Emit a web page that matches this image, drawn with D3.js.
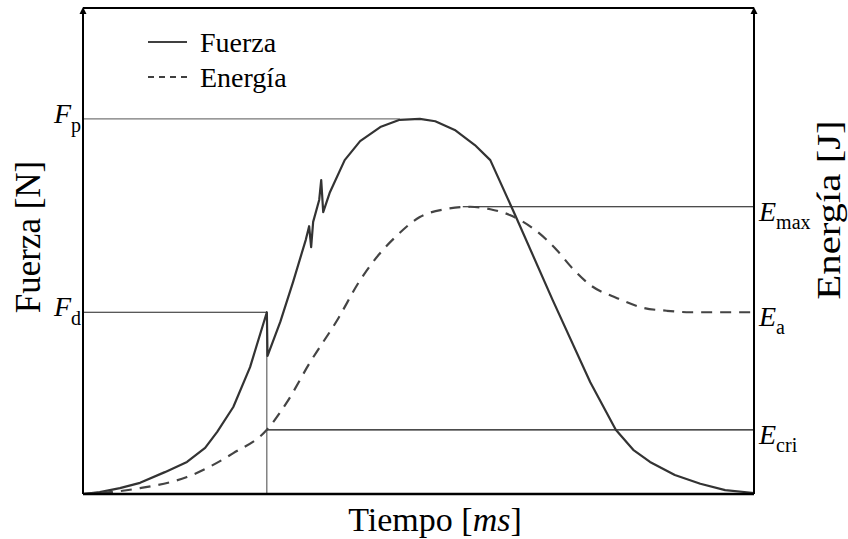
<!DOCTYPE html>
<html>
<head>
<meta charset="utf-8">
<script src="https://cdn.jsdelivr.net/npm/d3@7"></script>
<style>
svg text, svg tspan { font-family: 'Liberation Serif', 'DejaVu Serif', serif !important; }
</style>
</head>
<body style="margin:0">
<script>
// force curve (time, force) in arbitrary units
var forceT = [0, 2.5, 5.5, 8.5, 12.2, 15.5, 18.2, 20.0, 22.4, 24.9, 27.4, 27.5, 29.4, 31.3, 33.2, 33.7, 34.0, 34.3, 35.2, 35.5, 35.8, 36.8, 39.0, 41.3, 44.3, 47.2, 50.2, 52.5, 55.4, 58.4, 60.7, 64.4, 70.0, 75.6, 79.4, 82.0, 84.5, 88.2, 92.0, 95.7, 100];
var forceV = [0, 0.4, 1.2, 2.3, 4.5, 6.6, 9.5, 12.8, 17.9, 26.1, 37.4, 28.4, 35.4, 43.6, 52.3, 55.1, 50.8, 56.0, 60.5, 64.6, 58.0, 62.1, 68.7, 72.6, 75.5, 77.0, 77.2, 76.7, 74.9, 71.8, 68.7, 57.4, 39.9, 23.0, 13.2, 9.1, 6.6, 3.9, 2.1, 0.8, 0.2];

// energy curve
var energyT = [0, 2.5, 8.5, 15.5, 22.4, 27.4, 30.4, 33.8, 37.9, 41.3, 44.3, 46.5, 50.2, 54.0, 57.7, 60.7, 63.6, 67.4, 70.6, 72.9, 75.6, 79.6, 83.5, 87.0, 90.5, 100];
var energyV = [0, 0.2, 1.2, 3.5, 8.4, 13.2, 18.9, 27.0, 35.8, 44.0, 49.6, 52.8, 57.0, 58.6, 59.1, 58.6, 57.4, 54.3, 50.2, 46.5, 43.0, 40.3, 38.3, 37.7, 37.4, 37.4];

// reference levels
var forceLevels = ['p', 'd'];
var forceLevelV = [77.2, 37.4];
var forceLevelEnd = [47.2, 27.4];
var energyLevels = ['max', 'a', 'cri'];
var energyLevelV = [59.1, 37.4, 13.2];
var energyLevelStart = [56.6, 100, 27.4];
var tDrop = 27.4;

var fam = "'Liberation Serif', 'DejaVu Serif', serif";

var width = 848, height = 539;
var svg = d3.select('body').append('svg')
	.attr('width', width)
	.attr('height', height);

var x = d3.scaleLinear().domain([0, 100]).range([83, 754]);
var yF = d3.scaleLinear().domain([0, 100]).range([494, 8]);
var yE = d3.scaleLinear().domain([0, 100]).range([494, 8]);

function label(px, py, size) {
	return svg.append('text').attr('x', px).attr('y', py)
		.style('font-family', fam, 'important')
		.style('font-size', size + 'px');
}

// reference lines
forceLevelV.forEach(function(v, i) {
	svg.append('line')
		.attr('x1', x(0)).attr('x2', x(forceLevelEnd[i]))
		.attr('y1', yF(v)).attr('y2', yF(v))
		.attr('stroke', i == 0 ? '#777' : '#222')
		.attr('stroke-width', 1.2);
});
svg.append('line')
	.attr('x1', x(tDrop)).attr('x2', x(tDrop))
	.attr('y1', yF(forceLevelV[1])).attr('y2', yF(0))
	.attr('stroke', '#444').attr('stroke-width', 1);

energyLevelV.forEach(function(v, i) {
	if (energyLevelStart[i] >= 100) return;
	svg.append('line')
		.attr('x1', x(energyLevelStart[i])).attr('x2', x(100))
		.attr('y1', yE(v)).attr('y2', yE(v))
		.attr('stroke', '#111')
		.attr('stroke-width', 1.1);
});

// curves
var forceLine = d3.line()
	.x(function(d, i) { return x(forceT[i]); })
	.y(function(d) { return yF(d); });
svg.append('path')
	.attr('d', forceLine(forceV))
	.attr('fill', 'none')
	.attr('stroke', '#333')
	.attr('stroke-width', 2.2)
	.attr('stroke-linejoin', 'round');

var energyLine = d3.line()
	.x(function(d, i) { return x(energyT[i]); })
	.y(function(d) { return yE(d); })
	.curve(d3.curveMonotoneX);
svg.append('path')
	.attr('d', energyLine(energyV))
	.attr('fill', 'none')
	.attr('stroke', '#444')
	.attr('stroke-width', 2.2)
	.attr('stroke-dasharray', '11,8');

// frame
svg.append('line')
	.attr('x1', x(0)).attr('x2', x(100))
	.attr('y1', yF(0)).attr('y2', yF(0))
	.attr('stroke', '#000').attr('stroke-width', 2.5);
svg.append('line')
	.attr('x1', x(0)).attr('x2', x(100))
	.attr('y1', yF(100)).attr('y2', yF(100))
	.attr('stroke', '#000').attr('stroke-width', 2);
[0, 100].forEach(function(t) {
	svg.append('line')
		.attr('x1', x(t)).attr('x2', x(t))
		.attr('y1', yF(0)).attr('y2', yF(100) + 4)
		.attr('stroke', '#000').attr('stroke-width', 2);
	svg.append('path')
		.attr('d', 'M' + (x(t) - 3.5) + ',' + (yF(100) + 6) + 'L' + x(t) + ',' + (yF(100) - 1) + 'L' + (x(t) + 3.5) + ',' + (yF(100) + 6) + 'Z')
		.attr('fill', '#000');
});

// level labels
forceLevels.forEach(function(s, i) {
	var t = label(x(0) - 2, yF(forceLevelV[i]) + 4, 28)
		.attr('text-anchor', 'end');
	t.append('tspan').style('font-style', 'italic').text('F');
	t.append('tspan').attr('dy', 9).style('font-size', '20px').text(s);
});
energyLevels.forEach(function(s, i) {
	var t = label(x(100) + 5, yE(energyLevelV[i]) + 14, 28);
	t.append('tspan').style('font-style', 'italic').text('E');
	t.append('tspan').attr('dy', 8).style('font-size', '20px').text(s);
});

// axis titles
label(0, 0, 35)
	.attr('transform', 'translate(40,237) rotate(-90)')
	.attr('text-anchor', 'middle')
	.text('Fuerza [N]');
label(0, 0, 34)
	.attr('transform', 'translate(840,210) rotate(-90) scale(1.2,1)')
	.attr('text-anchor', 'middle')
	.text('Energía [J]');
var xt = label(435, 531, 34)
	.attr('text-anchor', 'middle');
xt.append('tspan').text('Tiempo [');
xt.append('tspan').style('font-style', 'italic').text('ms');
xt.append('tspan').text(']');

// legend
var legendNames = ['Fuerza', 'Energía'];
var legendDash = [null, '6,5'];
legendNames.forEach(function(n, i) {
	var ly = 42 + i * 35;
	svg.append('line')
		.attr('x1', 148).attr('x2', 187)
		.attr('y1', ly).attr('y2', ly)
		.attr('stroke', '#000').attr('stroke-width', 1.6)
		.attr('stroke-dasharray', legendDash[i]);
	label(200, ly + 10, 28).text(n);
});
</script>
</body>
</html>
